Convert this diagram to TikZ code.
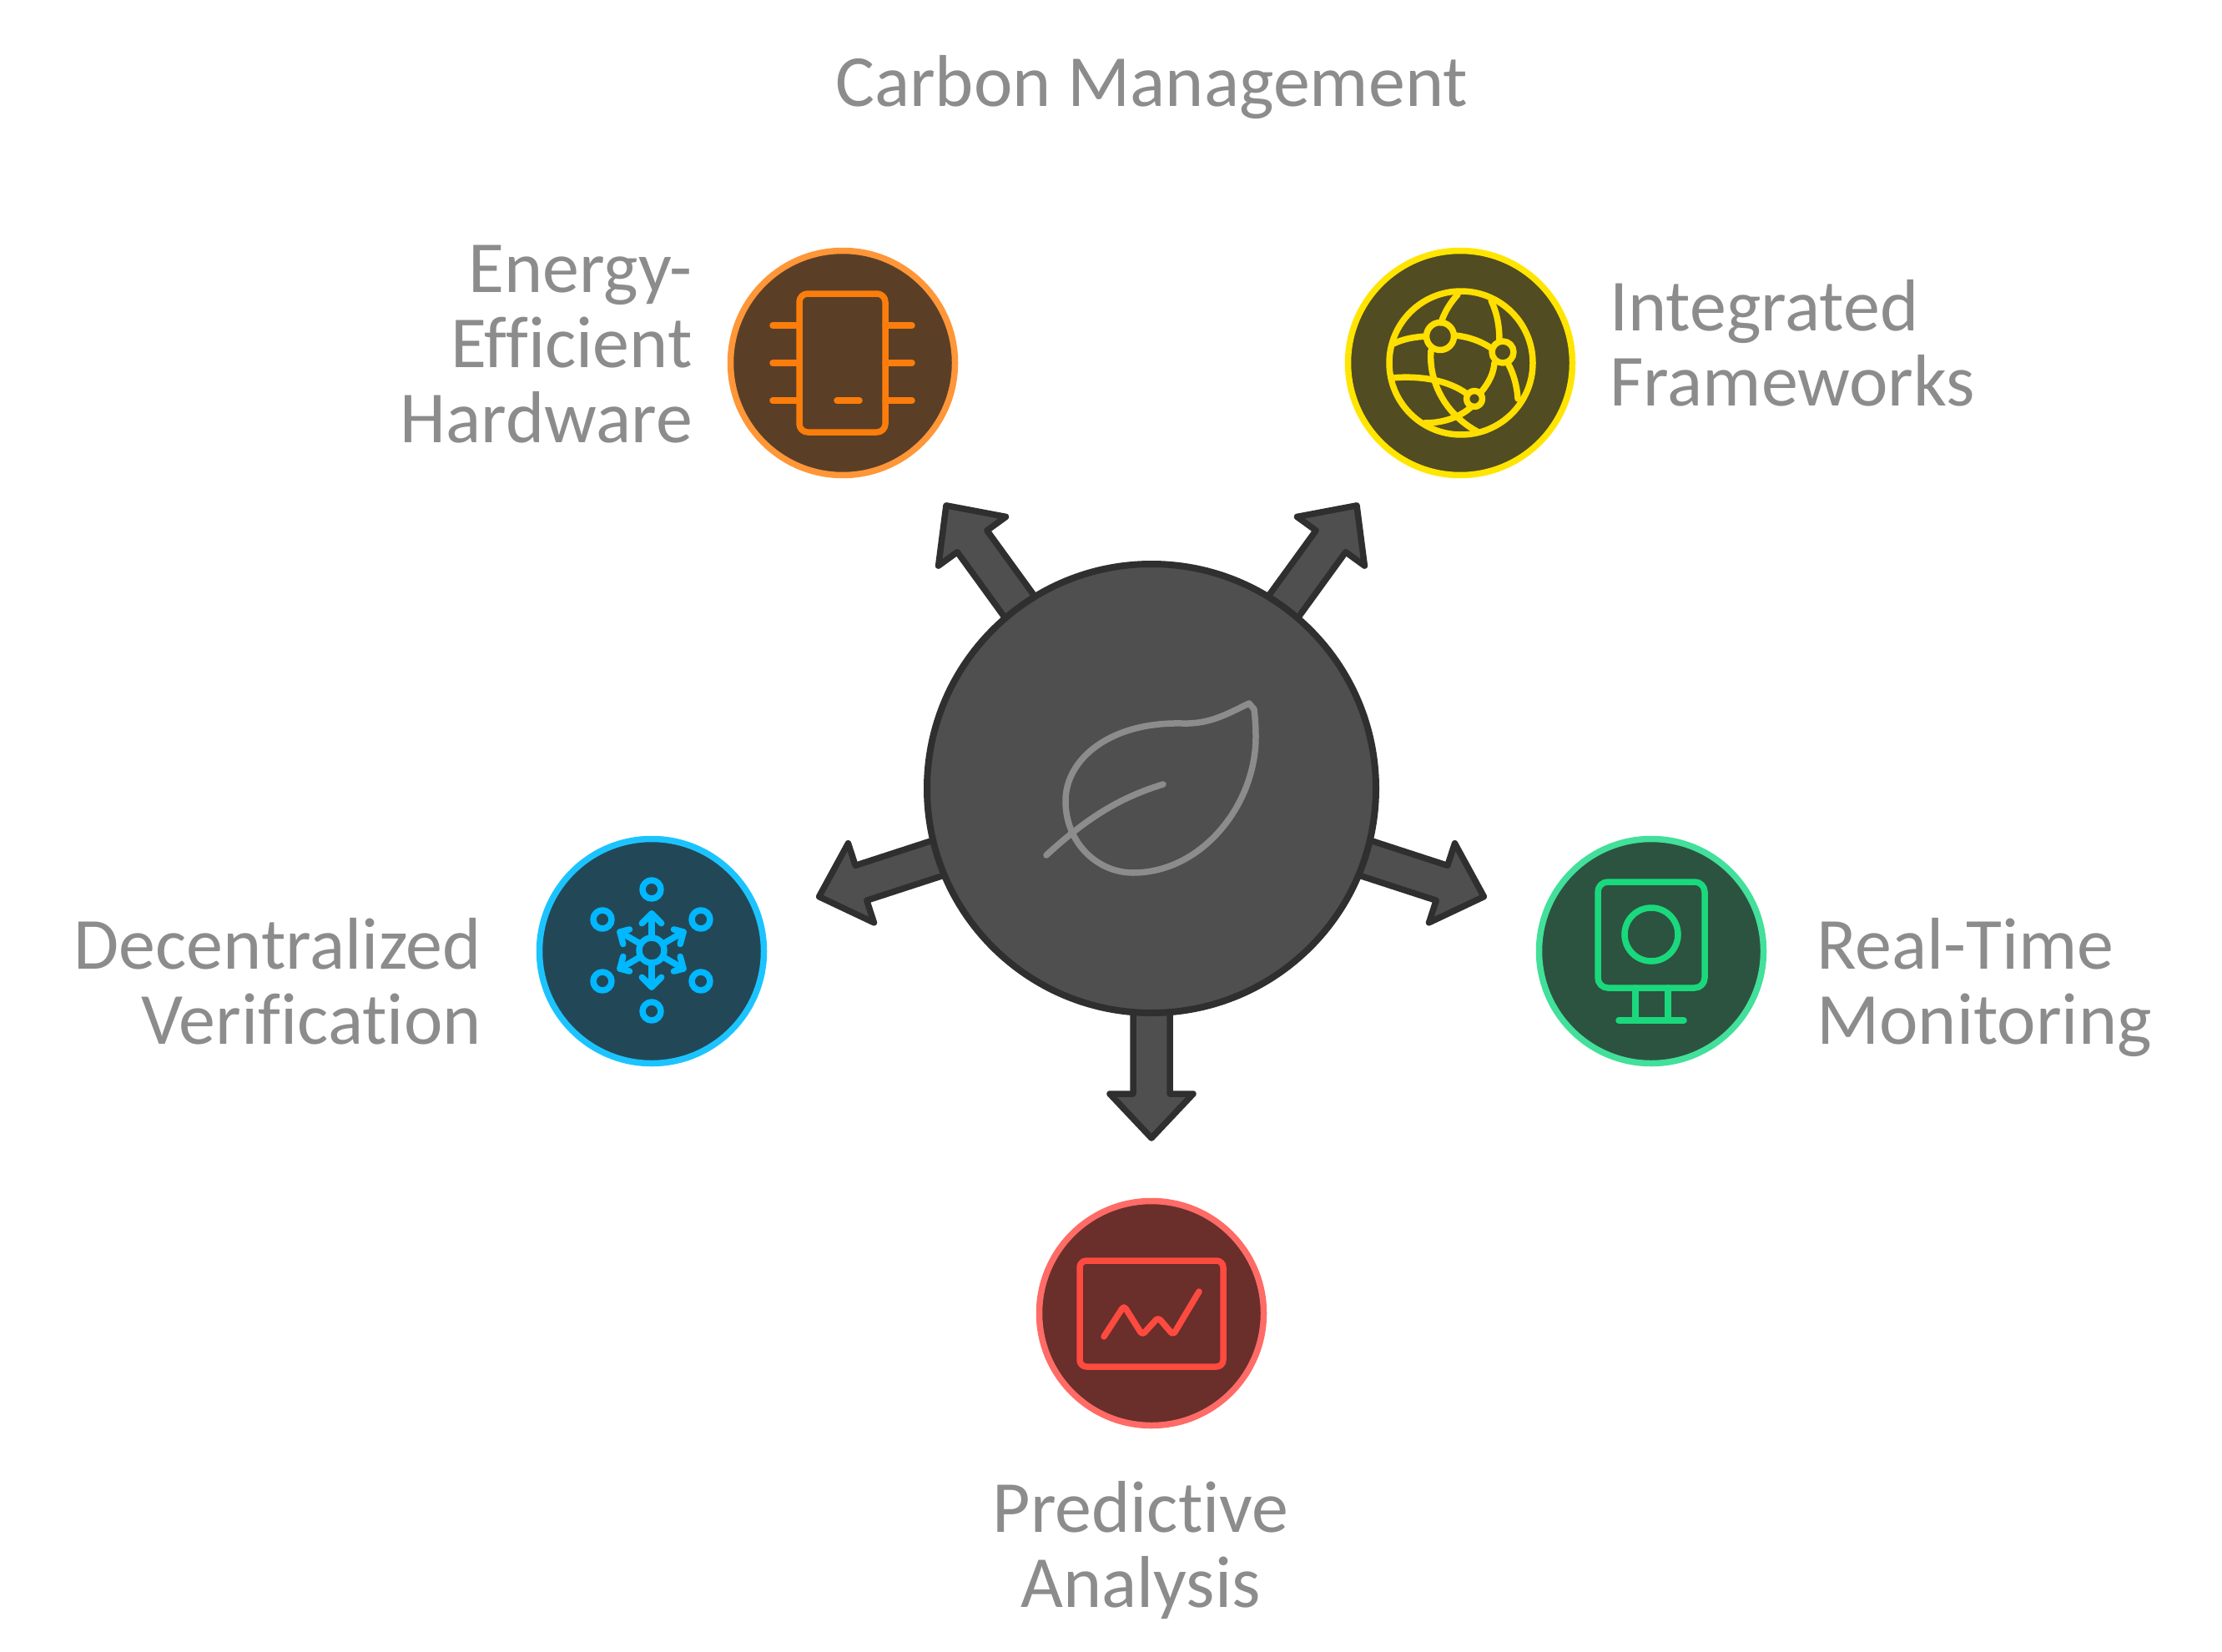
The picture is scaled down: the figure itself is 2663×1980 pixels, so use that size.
\documentclass[tikz,border=0pt]{standalone}
\usepackage{fontspec}
\setmainfont{Carlito}[Ligatures=NoCommon]
\usetikzlibrary{calc,backgrounds}
\definecolor{inkgray}{HTML}{8C8C8C}
\definecolor{hubfill}{HTML}{4F4F4F}
\definecolor{hubline}{HTML}{2F2F2F}
\definecolor{orangefill}{HTML}{5A3F26}
\definecolor{orangering}{HTML}{FF9638}
\definecolor{orangeicon}{HTML}{FC7D0B}
\definecolor{yellowfill}{HTML}{514C22}
\definecolor{yellowring}{HTML}{FFE500}
\definecolor{yellowicon}{HTML}{FFDF00}
\definecolor{bluefill}{HTML}{224858}
\definecolor{bluering}{HTML}{1CC4FF}
\definecolor{blueicon}{HTML}{00B8FF}
\definecolor{greenfill}{HTML}{2C5340}
\definecolor{greenring}{HTML}{42E09A}
\definecolor{greenicon}{HTML}{1AD97D}
\definecolor{redfill}{HTML}{6A2E2B}
\definecolor{redring}{HTML}{FF6B66}
\definecolor{redicon}{HTML}{FF4A40}
\newcommand{\blockarrow}[2]{
	\coordinate (base) at ($(#1.center)!200pt!(#2.center)$);
	\coordinate (neck) at ($(#1.center)!366pt!(#2.center)$);
	\coordinate (tip) at ($(#1.center)!419pt!(#2.center)$);
	\filldraw[arrowbody] ($(base)!22pt!90:(#2.center)$) -- ($(neck)!22pt!90:(#2.center)$) -- ($(neck)!50pt!90:(#2.center)$) -- (tip) -- ($(neck)!50pt!-90:(#2.center)$) -- ($(neck)!22pt!-90:(#2.center)$) -- ($(base)!22pt!-90:(#2.center)$) -- cycle;
}
\begin{document}
\begin{tikzpicture}[
		x=1pt, y=1pt,
		hubnode/.style={circle, draw=hubline, fill=hubfill, line width=8pt, minimum size=538pt, inner sep=0pt},
		spot/.style={circle, line width=7.5pt, minimum size=269pt, inner sep=0pt},
		arrowbody/.style={draw=hubline, fill=hubfill, line width=7.5pt, line join=round},
		icon/.style={line width=7.5pt, line cap=round, line join=round},
		mylabel/.style={font=\fontsize{88}{90}\selectfont, text=inkgray, inner sep=0pt}
		]
		\useasboundingbox (0,0) rectangle (2663,-1980);
		\node[hubnode] (hub) at (1380,-945) {};
		\node[spot, draw=orangering, fill=orangefill] (energy) at (1010,-435) {};
		\node[spot, draw=yellowring, fill=yellowfill] (integrated) at (1750,-435) {};
		\node[spot, draw=bluering, fill=bluefill] (verify) at (781,-1140) {};
		\node[spot, draw=greenring, fill=greenfill] (monitor) at (1979,-1140) {};
		\node[spot, draw=redring, fill=redfill] (predict) at (1380,-1574) {};
		
		\begin{scope}[on background layer]
			\foreach \spotname in {energy,integrated,verify,monitor,predict} {
				\blockarrow{hub}{\spotname}
			}
		\end{scope}
		
		% leaf
		\draw[icon, inkgray] (1497,-843) .. controls (1470,-856) and (1450,-868) .. (1417,-867) .. controls (1330,-865) and (1277,-910) .. (1277,-960) .. controls (1277,-1010) and (1315,-1046) .. (1358,-1046) .. controls (1440,-1046) and (1505,-965) .. (1505,-883) .. controls (1505,-870) and (1504,-858) .. (1503,-850) -- cycle;
		\draw[icon, inkgray] (1254,-1025) .. controls (1305,-978) and (1345,-955) .. (1394,-940);
		
		% chip
		\draw[icon, orangeicon, rounded corners=10pt] (958,-352) rectangle (1061,-518);
		\foreach \pin in {390,435,480} {
			\draw[icon, orangeicon] (926,-\pin) -- (958,-\pin);
			\draw[icon, orangeicon] (1061,-\pin) -- (1093,-\pin);
		}
		\draw[icon, orangeicon] (1003,-480) -- (1030,-480);
		
		% globe
		\begin{scope}[icon, yellowicon]
			\draw (1751,-435) circle (86);
			\draw (1726,-403) circle (16.5);
			\draw (1801,-422) circle (13);
			\draw (1767,-478) circle (9.5);
			\draw (1747,-353) .. controls (1738,-363) and (1731,-374) .. (1727,-387);
			\draw (1670,-412) .. controls (1682,-406) and (1695,-404) .. (1709,-403);
			\draw (1743,-402) .. controls (1758,-403) and (1776,-409) .. (1788,-418);
			\draw (1787,-360) .. controls (1794,-375) and (1797,-390) .. (1797,-409);
			\draw (1715,-420) .. controls (1712,-455) and (1730,-495) .. (1770,-517);
			\draw (1668,-453) .. controls (1700,-450) and (1735,-455) .. (1758,-472);
			\draw (1764,-487) .. controls (1750,-500) and (1730,-507) .. (1707,-507);
			\draw (1791,-435) .. controls (1790,-447) and (1785,-458) .. (1775,-470);
			\draw (1807,-435) .. controls (1814,-448) and (1818,-462) .. (1819,-478);
		\end{scope}
		
		% network
		\begin{scope}[shift={(781,-1139)}, icon, blueicon]
			\draw (0,0) circle (15);
			\foreach \a/\la/\lb in {90/16.5/16.5,30/12/15,150/15/12,210/12/15,270/16.5/16.5,330/15/12} {
				\draw (\a:15) -- (\a:44);
				\draw ($(\a:44)+(\a+135:\la)$) -- (\a:44) -- ($(\a:44)+(\a-135:\lb)$);
			}
			\foreach \x/\y in {0/73,0/-73,-59/37,59/37,-59/-37,59/-37}
			\draw (\x,\y) circle (11);
		\end{scope}
		
		% screen
		\draw[icon, greenicon, rounded corners=12pt] (1915,-1057) rectangle (2043,-1184);
		\draw[icon, greenicon] (1979,-1120) circle (32);
		\draw[icon, greenicon] (1960,-1184) -- (1960,-1223);
		\draw[icon, greenicon] (1999,-1184) -- (1999,-1223);
		\draw[icon, greenicon] (1940,-1223) -- (2018,-1223);
		
		% chart
		\draw[icon, redicon, rounded corners=8pt] (1294,-1511) rectangle (1466,-1638);
		\draw[icon, redicon, rounded corners=4pt] (1323,-1602) -- (1347,-1565) -- (1369,-1600) -- (1388,-1579) -- (1406,-1600) -- (1437,-1548);
		
		% labels
		\node[mylabel] (title) at (1380,-105) {Carbon Management};
		\node[mylabel, align=right, anchor=east] (energytext) at (830,-413) {Energy-\\Efficient\\Hardware};
		\node[mylabel, align=left, anchor=west] (integratedtext) at (1929,-411) {Integrated\\Frameworks};
		\node[mylabel, align=right, anchor=east] (verifytext) at (577,-1176) {Decentralized\\Verification};
		\node[mylabel, align=left, anchor=west] (monitortext) at (2177,-1183) {Real-Time\\Monitoring};
		\node[mylabel, align=center] (predicttext) at (1367,-1858) {Predictive\\Analysis};
\end{tikzpicture}
\end{document}
